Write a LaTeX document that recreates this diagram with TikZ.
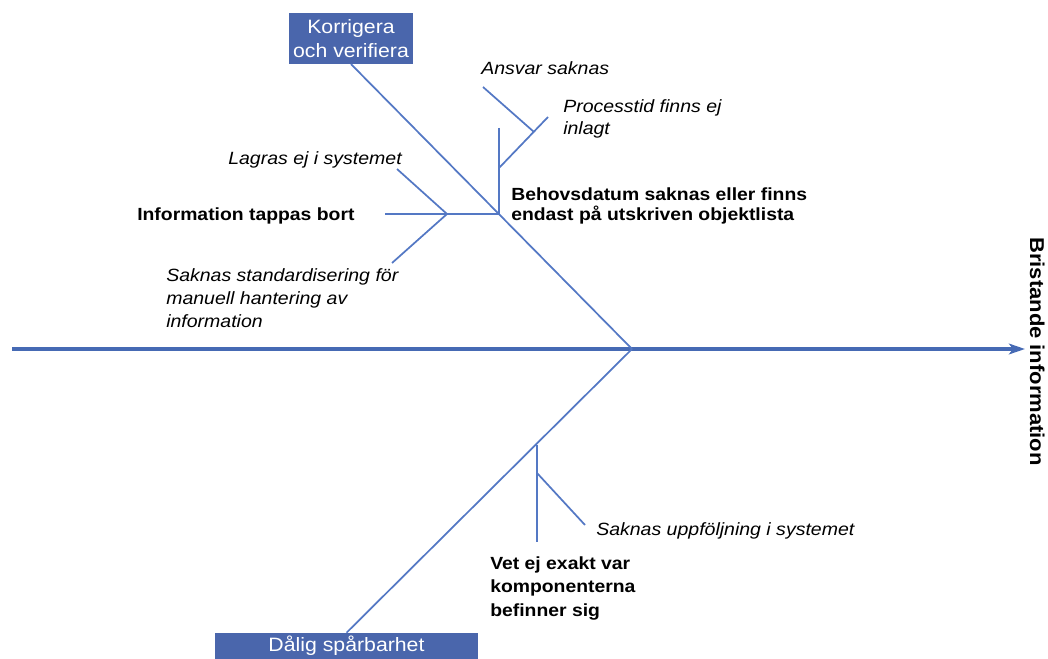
\documentclass[tikz,border=0pt]{standalone}
\usepackage{fontspec}
\setmainfont{Liberation Sans}[FakeStretch=1.1]
\usetikzlibrary{arrows.meta}
\definecolor{spineblue}{RGB}{70,106,180}
\definecolor{boneblue}{RGB}{84,120,196}
\definecolor{boxblue}{RGB}{74,102,172}

\begin{document}
\begin{tikzpicture}[
    x=0.75pt, y=-0.75pt,
    spine/.style={line width=3pt,draw=spineblue,-{Stealth[length=12pt,width=8pt,inset=3pt]}},
    bone/.style={line width=1.3pt,draw=boneblue},
    category/.style={rectangle,fill=boxblue,text=white,inner sep=0pt,align=center,
      font=\fontsize{14.5}{18}\selectfont},
    cause/.style={inner sep=0pt,anchor=base west,align=left,
      font=\bfseries\fontsize{13.2}{15}\selectfont},
    subcause/.style={inner sep=0pt,anchor=base west,align=left,
      font=\itshape\fontsize{13.3}{17}\selectfont}
  ]
    \useasboundingbox (0,0) rectangle (1048,659);

    % categories and effect
    \node[category,minimum width=93pt,minimum height=38pt] (korr) at (351,38.5)
      {Korrigera\\och verifiera};
    \node[category,minimum width=197pt,minimum height=19.5pt] (spar) at (346.5,646)
      {Dålig spårbarhet};
    \node[inner sep=0pt,anchor=base west,rotate=-90,
      font=\bfseries\fontsize{15}{17}\selectfont] (effect) at (1030,237)
      {Bristande information};

    % junction points
    \coordinate (tail) at (12,349);
    \coordinate (head) at (632,349);
    \coordinate (tip) at (1025,349);
    \coordinate (jinfo) at (499,214);
    \coordinate (infoend) at (385,214);
    \coordinate (jinfo2) at (447,214);
    \coordinate (lagras) at (397,169);
    \coordinate (standard) at (392,263);
    \coordinate (behovtop) at (499,128);
    \coordinate (jbehov) at (499,168);
    \coordinate (process) at (548,117);
    \coordinate (jansvar) at (534,132);
    \coordinate (ansvar) at (483,87);
    \coordinate (jvet) at (537,445);
    \coordinate (vetend) at (537,542);
    \coordinate (jvet2) at (537,473);
    \coordinate (uppfolj) at (585,525);

    % bones
    \draw[spine] (tail) -- (tip);
    \draw[bone] (korr.south) -- (head);
    \draw[bone] (spar.north) -- (head);
    \draw[bone] (infoend) -- (jinfo);
    \draw[bone] (lagras) -- (jinfo2);
    \draw[bone] (standard) -- (jinfo2);
    \draw[bone] (behovtop) -- (jinfo);
    \draw[bone] (jbehov) -- (process);
    \draw[bone] (ansvar) -- (jansvar);
    \draw[bone] (jvet) -- (vetend);
    \draw[bone] (jvet2) -- (uppfolj);

    % causes (base = last line)
    \node[cause] (info) at (137,221) {Information tappas bort};
    \node[cause,font=\bfseries\fontsize{13.2}{15}\selectfont] (behov) at (511,221)
      {Behovsdatum saknas eller finns\\endast på utskriven objektlista};
    \node[cause,font=\bfseries\fontsize{13.2}{17.6}\selectfont] (vet) at (490,616)
      {Vet ej exakt var\\komponenterna\\befinner sig};

    % sub-causes
    \node[subcause] (tlagras) at (228,165) {Lagras ej i systemet};
    \node[subcause,font=\itshape\fontsize{13.3}{17.25}\selectfont] (tstandard) at (166,327)
      {Saknas standardisering för\\manuell hantering av\\information};
    \node[subcause] (tansvar) at (481,75) {Ansvar saknas};
    \node[subcause,font=\itshape\fontsize{13.3}{16.5}\selectfont] (tprocess) at (563,135)
      {Processtid finns ej\\inlagt};
    \node[subcause] (tuppfolj) at (596,535) {Saknas uppföljning i systemet};
\end{tikzpicture}
\end{document}
